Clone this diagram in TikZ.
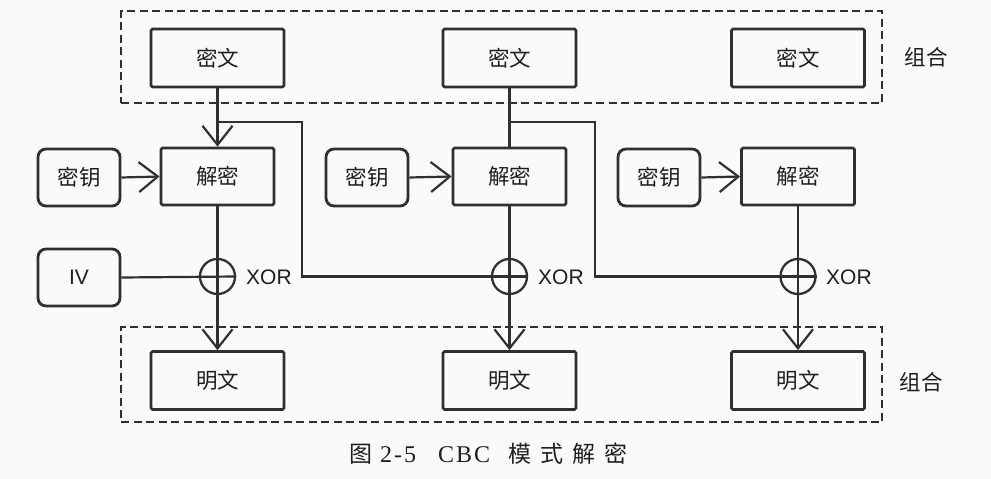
\documentclass[tikz,border=0pt]{standalone}
\usepackage{fontspec}
\usetikzlibrary{arrows.meta}
\newfontfamily\cjk{Noto Sans CJK SC}
\newfontfamily\lsans{Liberation Sans}
\newfontfamily\lserif{Liberation Serif}
\definecolor{ink}{HTML}{303030}
\definecolor{txt}{HTML}{1E1E1E}
\definecolor{paper}{HTML}{FAFAFA}
\begin{document}
\begin{tikzpicture}[x=1pt,y=-1pt,
  every node/.style={text=txt},
  block/.style={draw=ink, line width=2.8pt, rounded corners=1.5pt, inner sep=0pt,
    font=\cjk\fontsize{21.5}{21.5}\selectfont},
  wide/.style={block, minimum width=133pt, minimum height=58pt},
  dec/.style={block, minimum width=113pt, minimum height=57pt},
  small/.style={block, rounded corners=8pt, minimum width=82pt, minimum height=57pt},
  xorop/.style={circle, draw=ink, line width=2.3pt, minimum size=35pt, inner sep=0pt},
  group/.style={draw=ink, line width=2.6pt, dash pattern=on 8pt off 4.5pt, inner sep=0pt},
  lbl/.style={font=\cjk\fontsize{21.5}{21.5}\selectfont},
  xorlbl/.style={font=\lsans\fontsize{21}{21}\selectfont, anchor=west, inner sep=0pt},
  wire/.style={draw=ink, line width=2.2pt},
  arr/.style={wire, -{Straight Barb[length=19pt,width=30pt]}},
  captext/.style={inner sep=0pt}
]
\fill[paper] (0,0) rectangle (991,479);
\useasboundingbox (0,0) rectangle (991,479);

% dashed groupings of the ciphertext and plaintext blocks
\node[group, minimum width=761pt, minimum height=92pt] (gtop) at (501.5,57) {};
\node[group, minimum width=761pt, minimum height=95pt] (gbot) at (501.5,374.5) {};
\node[lbl] (gtoplbl) at (926,57) {组合};
\node[lbl] (gbotlbl) at (921,382) {组合};

% ciphertext blocks
\node[wide] (c1) at (217.5,58) {密文};
\node[wide] (c2) at (509.5,58) {密文};
\node[wide] (c3) at (798,58) {密文};

% decryption stages and keys
\node[dec] (d1) at (217.5,176.5) {解密};
\node[dec] (d2) at (509.5,176.5) {解密};
\node[dec] (d3) at (798,176.5) {解密};
\node[small] (k1) at (79,177.5) {密钥};
\node[small] (k2) at (367,177.5) {密钥};
\node[small] (k3) at (659,177.5) {密钥};
\node[small, font=\lsans\fontsize{21}{21}\selectfont] (iv) at (79,277.5) {IV};

% XOR operators
\node[xorop] (x1) at (217.5,276.5) {};
\node[xorop] (x2) at (509.5,276.5) {};
\node[xorop] (x3) at (798,276.5) {};
\node[xorlbl] (xl1) at (246,277) {XOR};
\node[xorlbl] (xl2) at (538,277) {XOR};
\node[xorlbl] (xl3) at (826,277) {XOR};

% plaintext blocks
\node[wide] (p1) at (217.5,380.5) {明文};
\node[wide] (p2) at (509.5,380.5) {明文};
\node[wide] (p3) at (798,380.5) {明文};

% data flow
\draw[arr] (c1.south) -- (d1.north);
\draw[wire] (c2.south) -- (d2.north);
\draw[arr] (k1.east) -- (d1.west);
\draw[arr] (k2.east) -- (d2.west);
\draw[arr] (k3.east) -- (d3.west);
\draw[wire] (iv.east) -- (x1.east);
\foreach \i in {1,2,3} {
  \draw[wire] (d\i.south) -- (x\i.north);
  \draw[arr] (x\i.north) -- (p\i.north);
}

% ciphertext feedback into the next XOR
\coordinate (f1) at (217.5,122);
\coordinate (f2) at (509.5,122);
\draw[wire] (f1) -| (302,276.5) -- (x2.east);
\draw[wire] (f2) -| (595,276.5) -- (x3.east);

% caption
\node[captext, font=\cjk\fontsize{23}{23}\selectfont] (capfig) at (361,454) {图};
\node[captext, anchor=west, font=\lserif\fontsize{24}{24}\selectfont] (capnum) at (380,455) {2\hspace{2pt}-\hspace{2pt}5};
\node[captext, anchor=west, font=\lserif\fontsize{24}{24}\selectfont] (capcbc) at (438,455) {C\hspace{2pt}B\hspace{2pt}C};
\node[captext, anchor=west, font=\cjk\fontsize{23}{23}\selectfont] (captxt) at (508,454) {模\hspace{9pt}式\hspace{9pt}解\hspace{9pt}密};
\end{tikzpicture}
\end{document}
